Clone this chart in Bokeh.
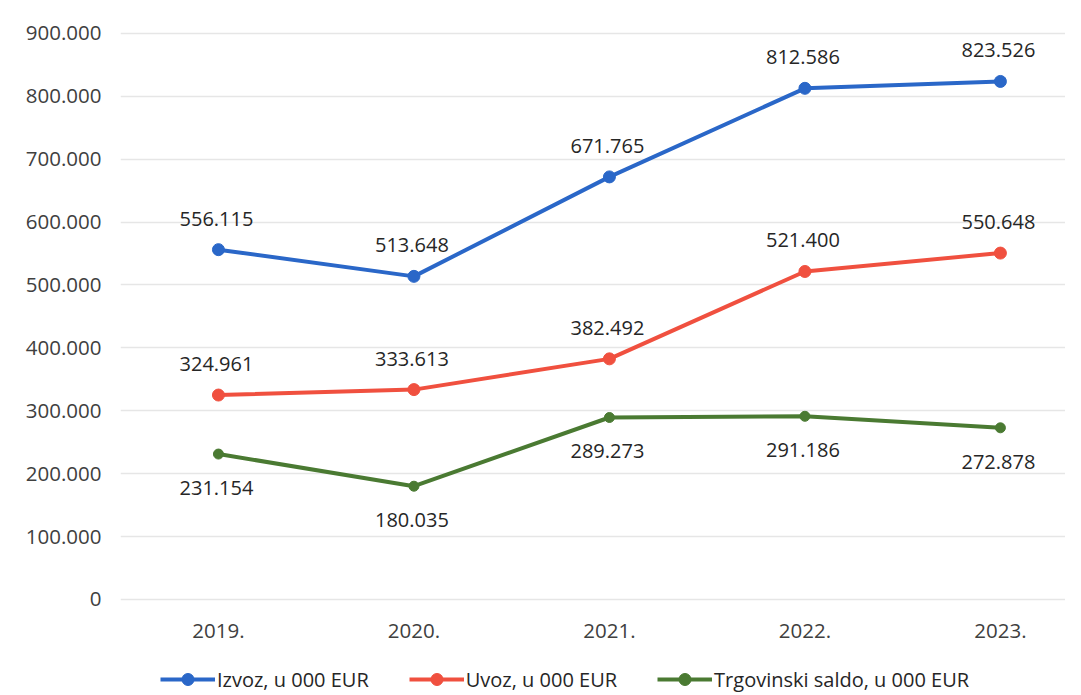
from bokeh.plotting import figure
from bokeh.models import ColumnDataSource, Legend, LegendItem, FixedTicker, CustomJSTickFormatter
from bokeh.core.properties import value
from bokeh.embed import file_html
from bokeh.resources import INLINE

years = ["2019.", "2020.", "2021.", "2022.", "2023."]
izvoz = [556.115, 513.648, 671.765, 812.586, 823.526]
uvoz = [324.961, 333.613, 382.492, 521.400, 550.648]
saldo = [231.154, 180.035, 289.273, 291.186, 272.878]
series_names = ["Izvoz, u 000 EUR", "Uvoz, u 000 EUR", "Trgovinski saldo, u 000 EUR"]
y_ticks = [0, 100, 200, 300, 400, 500, 600, 700, 800, 900]

FONT = "Open Sans"
xs = list(range(len(years)))

p = figure(frame_width=945, frame_height=676, min_border_left=120, min_border_right=0,
           min_border_top=19, min_border_bottom=0,
           x_range=(-0.501, 4.333), y_range=(-152.7, 922),
           output_backend="svg", toolbar_location=None, tools="")
p.outline_line_color = None
p.background_fill_color = "white"

p.xaxis.ticker = FixedTicker(ticks=xs)
p.xaxis.major_label_overrides = {i: y for i, y in enumerate(years)}
p.xaxis.fixed_location = 0
p.yaxis.ticker = FixedTicker(ticks=y_ticks)
p.yaxis.formatter = CustomJSTickFormatter(code="""
if (tick == 0) return '0';
return tick.toFixed(0) + '.000';
""")
for ax in (p.xaxis[0], p.yaxis[0]):
    ax.axis_line_color = None
    ax.major_tick_line_color = None
    ax.minor_tick_line_color = None
    ax.major_label_text_font = FONT
    ax.major_label_text_font_size = "20.5px"
    ax.major_label_text_color = "#404040"
p.yaxis.major_label_standoff = 13
p.xaxis.major_label_standoff = 19
p.xgrid.grid_line_color = None
p.ygrid.ticker = FixedTicker(ticks=y_ticks)
p.ygrid.grid_line_color = "#e6e6e6"
p.ygrid.grid_line_width = 1.5

colors = ["#2a67c8", "#f0503f", "#4a7a32"]
data = [izvoz, uvoz, saldo]
offsets = [-31, -31, 34]
sizes = [12, 12, 10]
items = []
for vals, col, name, off, sz in zip(data, colors, series_names, offsets, sizes):
    src = ColumnDataSource(dict(x=xs, y=vals, lab=[f"{v:.3f}" for v in vals]))
    r1 = p.line("x", "y", source=src, line_color=col, line_width=4)
    r2 = p.scatter("x", "y", source=src, size=sz, fill_color=col, line_color=col)
    p.text("x", "y", text="lab", source=src, text_align="center", text_baseline="middle",
           x_offset=-2, y_offset=off, text_font=value(FONT),
           text_font_size="20px", text_color="#262626")
    items.append(LegendItem(label=name, renderers=[r1, r2]))

legend = Legend(items=items, orientation="horizontal", location=(40, 1),
                label_text_font=FONT, label_text_font_size="20px", label_text_color="#262626",
                glyph_width=55, glyph_height=30, label_height=26, label_standoff=2, spacing=40,
                border_line_color=None, background_fill_alpha=0, margin=0, padding=0)
p.add_layout(legend, "center")

open("out.html", "w").write(file_html(p, INLINE))
